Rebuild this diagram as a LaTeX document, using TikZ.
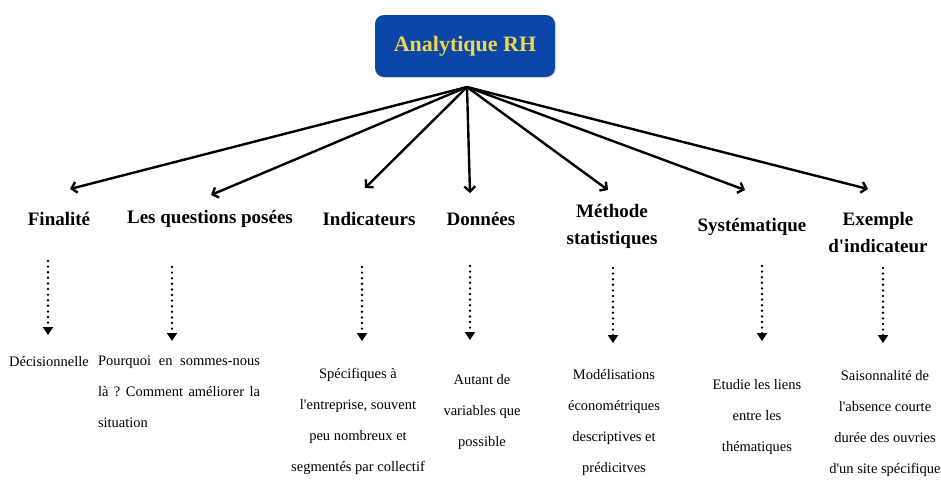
\documentclass[tikz,border=0pt]{standalone}
\usepackage{fontspec}
\setmainfont{Liberation Serif}[Ligatures=TeXOff]
\usetikzlibrary{arrows.meta,shadows}
\definecolor{boxblue}{HTML}{0A47A8}
\definecolor{titleyellow}{HTML}{F2D54A}
\frenchspacing
\tikzset{
  titlebox/.style={fill=boxblue, rounded corners=9pt, minimum width=180pt, minimum height=62pt,
    text=titleyellow, font=\fontsize{22}{26}\selectfont\bfseries,
    drop shadow={opacity=0.18, shadow xshift=1.5pt, shadow yshift=-1.5pt}},
  heading/.style={font=\fontsize{19}{27}\selectfont\bfseries, align=center, inner sep=0pt},
  body/.style={font=\fontsize{14.5}{31}\selectfont, align=center, inner sep=0pt},
  mainarrow/.style={line width=2.4pt, -{Straight Barb[length=5pt,width=11pt]}},
  dotarrow/.style={line width=2.7pt, dash pattern=on 0pt off 5.6pt, line cap=round,
    -{Triangle[length=8pt,width=10pt]}}
}
\begin{document}
\begin{tikzpicture}[x=1pt,y=-1pt]
\useasboundingbox[fill=white] (0,0) rectangle (941,480);
% title
\node[titlebox] (t) at (465,46) {Analytique RH};
\coordinate (o) at (467,87);
% headings
\node[heading] (h1) at (59,219) {Finalité};
\node[heading] (h2) at (210,219) {Les questions posées};
\node[heading] (h3) at (369,219) {Indicateurs};
\node[heading] (h4) at (481,219) {Données};
\node[heading] (h5) at (612,226) {Méthode\\statistiques};
\node[heading] (h6) at (752,227) {Systématique};
\node[heading] (h7) at (878,233) {Exemple\\d'indicateur};
% arrow tips of the main arrows
\coordinate (a1) at (70,189);
\coordinate (a2) at (211,195);
\coordinate (a3) at (365,188);
\coordinate (a4) at (470,193);
\coordinate (a5) at (608,190);
\coordinate (a6) at (745,190);
\coordinate (a7) at (868,189);
\foreach \i in {1,...,7} \draw[mainarrow] (o) -- (a\i);
% dotted arrows
\coordinate (d1s) at (48,261); \coordinate (d1e) at (48,335);
\coordinate (d2s) at (172,267); \coordinate (d2e) at (172,341);
\coordinate (d3s) at (362,267); \coordinate (d3e) at (362,341);
\coordinate (d4s) at (470,266); \coordinate (d4e) at (470,340);
\coordinate (d5s) at (613,268); \coordinate (d5e) at (613,343);
\coordinate (d6s) at (762,266); \coordinate (d6e) at (762,341);
\coordinate (d7s) at (883,268); \coordinate (d7e) at (883,343);
\foreach \i in {1,...,7} \draw[dotarrow] (d\i s) -- (d\i e);
% body texts
\node[body] (b1) at (49,362) {Décisionnelle};
\node[body, text width=162pt, align=justify] (b2) at (179,392) {Pourquoi en sommes-nous\linebreak là ? Comment améliorer la\linebreak situation};
\node[body] (b3) at (358,421) {Spécifiques à\\l'entreprise, souvent\\peu nombreux et\\segmentés par collectif};
\node[body] (b4) at (482,412) {Autant de\\variables que\\possible};
\node[body] (b5) at (614,422) {Modélisations\\économétriques\\descriptives et\\prédicitves};
\node[body] (b6) at (757,417) {Etudie les liens\\entre les\\thématiques};
\node[body] (b7) at (885,423) {Saisonnalité de\\l'absence courte\\durée des ouvries\\d'un site spécifique};
\end{tikzpicture}
\end{document}
